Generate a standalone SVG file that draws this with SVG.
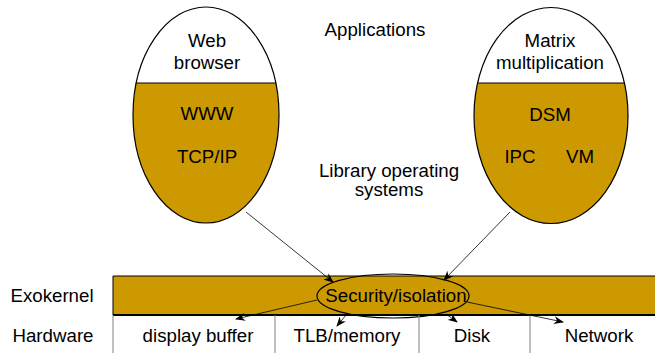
<svg xmlns="http://www.w3.org/2000/svg" width="655" height="353" viewBox="0 0 655 353">
<style>
text{font-family:"Liberation Sans",Arial,sans-serif;font-size:18.7px;fill:#000;text-anchor:middle}
.gold{fill:#CC9900}
.outline{fill:none;stroke:#000;stroke-width:1.2}
.conn{stroke:#000;stroke-width:0.8;fill:none;marker-end:url(#ah)}
.cell{stroke:#808080;stroke-width:1;fill:none}
</style>
<defs>
<marker id="ah" markerWidth="10" markerHeight="8" refX="9" refY="4" orient="auto" markerUnits="userSpaceOnUse">
<path d="M0,0 L10,4 L0,8 L3,4 Z" fill="#000"/>
</marker>
<clipPath id="cl"><rect x="0" y="83" width="655" height="200"/></clipPath>
</defs>
<rect width="655" height="353" fill="#fff"/>
<text x="375" y="36">Applications</text>
<text x="389" y="177">Library operating</text>
<text x="389" y="196">systems</text>
<g id="web-browser">
<ellipse cx="206" cy="115" rx="73" ry="108" class="gold" clip-path="url(#cl)"/>
<line x1="136" y1="83" x2="276" y2="83" stroke="#000" stroke-width="1"/>
<ellipse cx="206" cy="115" rx="73" ry="108" class="outline"/>
<text x="207" y="47">Web</text>
<text x="207" y="69">browser</text>
<text x="207" y="120">WWW</text>
<text x="207" y="163">TCP/IP</text>
</g>
<g id="matrix">
<ellipse cx="551" cy="115.5" rx="77" ry="108" class="gold" clip-path="url(#cl)"/>
<line x1="477" y1="83" x2="625" y2="83" stroke="#000" stroke-width="1"/>
<ellipse cx="551" cy="115.5" rx="77" ry="108" class="outline"/>
<text x="550" y="47">Matrix</text>
<text x="550" y="69">multiplication</text>
<text x="550" y="121">DSM</text>
<text x="520" y="163">IPC</text>
<text x="580" y="163">VM</text>
</g>
<g id="exokernel">
<text x="52" y="302">Exokernel</text>
<rect x="113" y="276" width="542" height="39" class="gold"/>
<line x1="113" y1="276" x2="655" y2="276" stroke="#000" stroke-width="1"/>
<line x1="113" y1="315" x2="655" y2="315" stroke="#000" stroke-width="2"/>
<line x1="113" y1="276" x2="113" y2="315" stroke="#000" stroke-width="1"/>
</g>
<g id="security">
<ellipse cx="393" cy="296" rx="76" ry="22" class="outline"/>
<text x="396" y="302">Security/isolation</text>
</g>
<g id="hardware">
<text x="53" y="342">Hardware</text>
<line x1="113" y1="315" x2="113" y2="353" class="cell"/>
<line x1="275" y1="315" x2="275" y2="353" class="cell"/>
<line x1="419" y1="315" x2="419" y2="353" class="cell"/>
<line x1="530" y1="315" x2="530" y2="353" class="cell"/>
</g>
<g id="display-buffer"><text x="198" y="342">display buffer</text></g>
<g id="tlb-memory"><text x="347" y="342">TLB/memory</text></g>
<g id="disk"><text x="472" y="342">Disk</text></g>
<g id="network"><text x="599" y="342">Network</text></g>
<g id="connectors">
<line x1="246" y1="212" x2="333" y2="282" class="conn"/>
<line x1="510" y1="212" x2="444" y2="280" class="conn"/>
<line x1="317" y1="300" x2="236" y2="319" class="conn"/>
<line x1="346" y1="315" x2="337" y2="326" class="conn"/>
<line x1="446" y1="314" x2="457" y2="322" class="conn"/>
<line x1="467" y1="302" x2="563" y2="322" class="conn"/>
</g>
</svg>
